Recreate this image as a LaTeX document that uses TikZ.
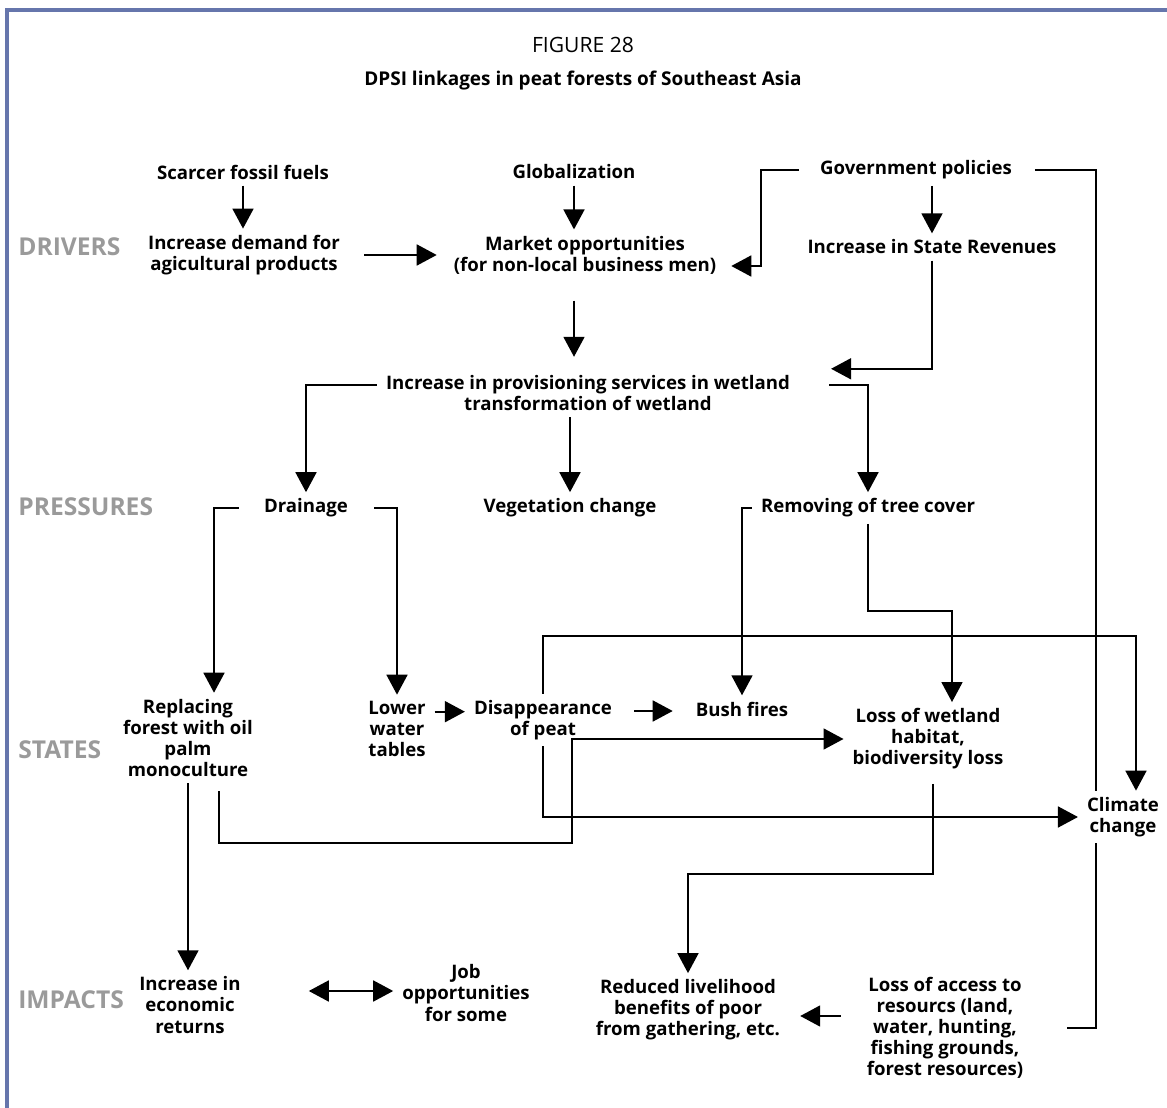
\documentclass[tikz,border=0pt]{standalone}
\usepackage{fontspec}
\setmainfont{Open Sans}
\usetikzlibrary{arrows.meta,calc}
\definecolor{frameblue}{HTML}{6676AC}
\definecolor{rowgray}{HTML}{9A9A9A}

\begin{document}
\begin{tikzpicture}[x=0.02cm, y=-0.02cm, >={Triangle[length=0.4cm,width=0.42cm]},
  every node/.style={font=\fontsize{10.6}{12}\selectfont\bfseries, align=center, inner xsep=5pt, inner ysep=3.5pt},
  row/.style={anchor=west, font=\fontsize{14}{16}\selectfont\bfseries, text=rowgray, inner sep=0pt},
  link/.style={line width=1pt}]
  \useasboundingbox (0,0) rectangle (1167,1108);
  % frame
  \draw[frameblue, line width=2.2pt] (7,1108) -- (7,10) -- (1167,10);
  % title
  \node[font=\fontsize{12}{14}\selectfont] (fig) at (583,45) {FIGURE 28};
  \node[font=\fontsize{10.8}{14}\selectfont\bfseries] (title) at (583,81) {DPSI linkages in peat forests of Southeast Asia};
  % row labels
  \node[row] (drivers) at (18,247) {DRIVERS};
  \node[row] (pressures) at (18,507) {PRESSURES};
  \node[row] (states) at (18,750) {STATES};
  \node[row] (impacts) at (18,1000) {IMPACTS};
  % drivers
  \node (fossil) at (243,172) {Scarcer fossil fuels};
  \node (glob) at (574,172) {Globalization};
  \node (gov) at (916,170) {Government policies};
  \node (demand) at (244,255) {Increase demand for\\agicultural products};
  \node (market) at (585,255) {Market opportunities\\(for non-local business men)};
  \node (revenue) at (932,247) {Increase in State Revenues};
  % pressures
  \node (prov) at (588,393) {Increase in provisioning services in wetland\\transformation of wetland};
  \node (drain) at (306,508) {Drainage};
  \node (veg) at (570,508) {Vegetation change};
  \node (trees) at (868,508) {Removing of tree cover};
  % states
  \node (replace) at (188,738) {Replacing\\forest with oil\\palm\\monoculture};
  \node (lower) at (397,729) {Lower\\water\\tables};
  \node (disap) at (543,720) {Disappearance\\of peat};
  \node (bush) at (742,709) {Bush fires};
  \node (loss) at (928,739) {Loss of wetland\\habitat,\\biodiversity loss};
  \node (climate) at (1123,817) {Climate\\change};
  % impacts
  \node (econ) at (190,1005) {Increase in\\economic\\returns};
  \node (jobs) at (466,993) {Job\\opportunities\\for some};
  \node (reduced) at (688,1010) {Reduced livelihood\\benefits of poor\\from gathering, etc.};
  \node (access) at (945,1028) {Loss of access to\\resourcs (land,\\water, hunting,\\fishing grounds,\\forest resources)};

  % links among drivers
  \draw[->, link] (fossil.south) -- (fossil.south |- demand.north);
  \draw[->, link] (glob.south) -- (glob.south |- market.north);
  \draw[->, link] (revenue.north |- gov.south) -- (revenue.north);
  \draw[->, link] ($(demand.east)+(15,0)$) -- ($(market.west)+(-8,0)$);
  \draw[->, link] ($(gov.west)+(-12,0)$) -| ($(market.east)+(36,11)$) -- ($(market.east)+(6,11)$);
  % government policies rail
  \draw[link] ($(gov.east)+(14,0)$) -| ($(climate.north)+(-27,0)$);
  \draw[link] ($(climate.south)+(-27,0)$) |- ($(access.east)+(35,0)$);
  % drivers to pressures
  \draw[->, link] ($(glob.south |- market.south)+(0,20)$) -- ($(glob.south |- prov.north)+(0,-12)$);
  \draw[->, link] (revenue.south) |- ($(prov.north east)+(32,0)$);
  \draw[->, link] ($(prov.north west)+(0,16)$) -| (drain.north);
  \draw[->, link] (veg.north |- prov.south) -- (veg.north);
  \draw[->, link] ($(prov.north east)+(30,16)$) -| (trees.north);
  % pressures to states
  \draw[->, link] ($(drain.west)+(-16,0)$) -| ($(replace.north)+(26,0)$);
  \draw[->, link] ($(drain.east)+(17,0)$) -| (lower.north);
  \draw[->, link] (trees.west) -| (bush.north);
  \draw[->, link] (trees.south) -- ++(0,87) -| ($(loss.north)+(24,0)$);
  % among states
  \draw[->, link] ($(lower.north east)+(0,17)$) coordinate (lw) -- (lw -| disap.west);
  \draw[->, link] ($(disap.east)+(13,-9)$) coordinate (dp) -- ($(dp -| bush.west)+(-14,0)$);
  \draw[->, link] (disap.north) -- ++(0,-58) -| ($(climate.north)+(13,0)$);
  \draw[->, link] (disap.south) |- (climate.west);
  \draw[->, link] ($(replace.south)+(31,8)$) |- ++(353,52) |- (loss.west);
  % states to impacts
  \draw[->, link] (replace.south) -- (replace.south |- econ.north);
  \draw[<->, link] ($(econ.east)+(59,-14)$) coordinate (ej) -- (ej -| jobs.west);
  \draw[->, link] ($(loss.south)+(5,8)$) -- ++(0,90) -| (reduced.north);
  \draw[->, link] ($(access.west)+(-17,-12)$) coordinate (ar) -- ($(ar -| reduced.east)+(11,0)$);
\end{tikzpicture}
\end{document}
